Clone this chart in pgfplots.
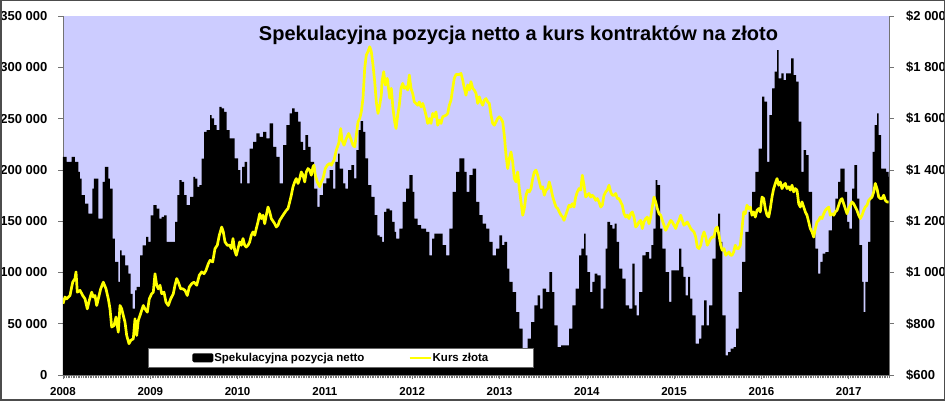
\documentclass[border=0pt]{standalone}
\usepackage{pgfplots}
\pgfplotsset{compat=1.18}
\usepackage{fontspec}
\setmainfont{Liberation Sans}
\definecolor{lav}{RGB}{204,204,255}
\definecolor{gold}{RGB}{255,255,0}
\begin{document}
\begin{tikzpicture}[x=1pt,y=1pt]
\begin{axis}[
  at={(63pt,26pt)}, anchor=south west, scale only axis,
  width=826pt, height=359pt,
  xmin=63, xmax=889, ymin=0, ymax=350,
  axis x line*=bottom, axis y line*=left,
  axis line style={-, draw=black!55, line width=0.8pt},
  axis background/.style={fill=lav},
  xtick={63,150.3,237.6,324.9,412.2,499.5,586.8,674.1,761.4,848.7,936},
  xticklabels={2008,2009,2010,2011,2012,2013,2014,2015,2016,2017,2018},
  minor x tick num=51,
  ytick={0,50,...,350},
  yticklabels={0,50 000,100 000,150 000,200 000,250 000,300 000,350 000},
  tick align=outside,
  major tick length=4.5pt, minor tick length=3.5pt,
  tick style={draw=black!55, line width=0.6pt},
  xticklabel style={font=\fontsize{11.5}{12}\selectfont\bfseries, anchor=north, inner sep=0pt, yshift=-8pt},
  yticklabel style={font=\fontsize{13}{14}\selectfont\bfseries, anchor=east, inner sep=0pt, xshift=-11pt},
  legend columns=2,
  legend style={at={(axis description cs:0.1029,0.0195)}, anchor=south west,
    draw=black!60, line width=0.6pt, fill=white, inner xsep=44pt, inner ysep=4pt,
    font=\fontsize{11.5}{12}\selectfont\bfseries, nodes={inner sep=1pt},
    /tikz/every even column/.append style={column sep=43pt}},
]
\addplot[fill=black, draw=none, const plot,
  legend image code/.code={\fill[black, rounded corners=1.5pt] (0pt,-4.5pt) rectangle (21pt,4.5pt);}]
coordinates {
(63,212.7) (66.7,207.8) (71.7,212.7) (75,207.8) (78.3,198) (80,191.5) (81.7,175.3) (85,167.1) (88.3,157.3) (92.3,181.8) (94,191.5) (98.3,152.5) (102.7,188.3) (105,202.9) (108.3,191.5) (110,181.8) (112.7,132.9) (115,110.2) (118.3,90.7) (120,121.5) (121.7,116.7) (125,106.9) (128.3,98.8) (130.7,79.2) (132.7,64.6) (135,82.5) (136.7,85.8) (140,116.7) (142.7,126.4) (146,134.6) (148.3,129.7) (150.7,155.7) (153.3,165.5) (156.7,162.2) (159.3,152.5) (161.7,154.1) (164,155.7) (166.7,129.7) (175,149.2) (177.3,175.3) (179.3,190) (181.7,188.3) (184,175.3) (186.7,165.5) (190,173.6) (193.3,193.2) (195,191.5) (197.3,183.4) (199.3,185) (201.7,211) (204,237.1) (206.7,238.7) (210,253.4) (211.7,250.1) (214,243.6) (216.7,238.7) (219.3,261.5) (221.7,259.9) (224,256.6) (226.7,238.7)
(229.7,230.6) (234.7,211.1) (238,199.7) (240.3,186.7) (242,202.9) (244.7,207.8) (247,186.7) (249.7,220.8) (253,227.3) (256.3,235.5) (259.7,232.2) (263,237.1) (266.3,230.6) (269.7,245.2) (273,222.5) (276.3,212.7) (279.7,186.7) (283,224.1) (286.3,243.6) (289.7,255) (292,259.9) (294.7,256.6) (298,246.9) (300.7,227.3) (303,219.2) (305.3,233.9) (308,222.5) (310.7,207.8) (314,181.8) (317.3,163.9) (319.7,175.3) (323,186.7) (326.3,191.6) (329.7,199.7) (333,181.8) (335.3,207.8) (338,215.9) (339.7,201.3) (343,186.7) (345.3,181.8) (348,199.7) (351.3,204.6) (354,191.6) (356.3,219.2) (358.7,238.7) (360.7,247.5) (363,237.1) (365.3,211.1) (368,185) (371.3,173.7) (374.7,155.8) (377.3,136.2) (379.7,134.6) (382,129.7) (384,159) (386.3,162.3) (389.7,160.6) (392,149.3) (394.7,139.5)
(396,133) (399.3,142.7) (402.7,168.8) (406,181.8) (409.3,194.8) (412.7,178.5) (414.3,152.5) (417.7,146) (421,142.7) (426,139.5) (429.3,116.7) (432,133) (434.3,137.9) (442.7,126.5) (446,116.7) (449.3,142.7) (452.7,178.5) (456,198.1) (459.3,211.1) (464.3,198.1) (466.7,178.5) (469.3,194.8) (472.7,201.3) (476,168.8) (479.3,155.8) (482.7,147.6) (486,142.7) (489.3,129.7) (492.7,116.7) (496,123.2) (499.3,136.2) (502,126.5) (504.3,129.7) (507,103.7) (509.3,90.7) (512.7,80.9) (516,61.4) (519.3,45.1) (522.7,25) (527.7,35.4) (531,51.6) (534.3,67.9) (537.7,77.7) (540,64.6) (542.7,84.2) (546,80.9) (549.3,100.4) (552,80.9) (554.3,48.4) (557.7,27.2) (561,28.9)
(565.7,28.9) (569,45.1) (572.3,67.9) (575.7,84.2) (579,116.7) (581.3,123.2) (584,137.9) (585.7,116.7) (587.3,100.4) (590,80.9) (592.3,90.7) (594.7,98.8) (597.3,97.2) (600.7,64.6) (603.3,84.2) (605.7,123.2) (607.3,149.3) (610,146) (612.3,142.7) (614.7,147.6) (616.7,129.7) (619,103.7) (622.3,93.9) (625.7,67.9) (629,64.6) (632.3,108.6) (634.7,67.9) (636.7,58.1) (639,80.9) (642.3,116.7) (645.7,119.9) (649,113.5) (651.3,126.5) (653.3,142.7) (655.7,189.9) (657.3,185) (660,142.7) (662.3,123.2) (665.7,100.4) (669,71.2) (671.3,102.1) (679,123.2) (681.3,105.3) (683.3,95.6) (685.7,77.7) (688,95.6) (690,74.4) (692.3,58.1) (695.7,30.5) (699,35.4) (701.3,48.4) (704,72.8) (706.7,48.4) (709,67.9) (712.3,113.5) (715.7,139.5) (718,157.4) (720,129.7) (722.3,58.1) (725.7,19.1) (728,22.3) (730.7,25.6)
(733.7,27.2) (736,45.1) (738.7,80.9) (742,110.2) (745.3,139.5) (748.7,159) (752,178.5) (755.3,198.1) (758.7,220.8) (762,271.3) (764.3,266.4) (767,207.8) (769.3,253.4) (772,279.4) (774.7,295.7) (777,316.8) (778.7,289.2) (781.3,294.1) (783.7,287.5) (786,294.1) (788.7,294.1) (791,308.7) (793.7,292.4) (796,285.9) (798.7,246.9) (801.3,198.1) (803.7,219.2) (806,214.3) (808.7,178.5) (812,139.5) (815.3,123.2) (818,98.8) (820.3,110.2) (822.7,118.3) (825.3,119.9) (828.7,141.1) (832,155.8) (835.3,172) (838,188.3) (840.3,201.3) (844.7,178.5) (847,149.3) (849.3,142.7) (852,181.8) (854.3,204.6) (857,172) (859.3,126.5) (862,90.7) (863.7,61.4) (865.3,90.7) (868,129.7) (870.3,172) (872.7,217.6) (874.7,243.6) (877,255) (878.7,233.9) (881,201.3) (886,198.1) (888.7,193.2) (889,193.2)
} \closedcycle;
\addlegendentry{Spekulacyjna pozycja netto}
\addlegendimage{legend image code/.code={\draw[gold, line width=2.2pt] (0pt,0pt) -- (21pt,0pt);}}
\addlegendentry{Kurs złota}
\end{axis}
\begin{axis}[
  at={(63pt,26pt)}, anchor=south west, scale only axis,
  width=826pt, height=359pt,
  xmin=63, xmax=889, ymin=600, ymax=2000,
  axis x line=none, axis y line*=right,
  axis line style={-, draw=black!55, line width=0.8pt},
  ytick={600,800,...,2000},
  yticklabels={\$600,\$800,\$1 000,\$1 200,\$1 400,\$1 600,\$1 800,\$2 000},
  tick align=outside, major tick length=4.5pt,
  tick style={draw=black!55, line width=0.6pt},
  yticklabel style={font=\fontsize{13}{14}\selectfont\bfseries, anchor=west, inner sep=0pt, xshift=12.5pt},
]
\addplot[gold, line width=2.7pt, line join=round] coordinates {
(63,878) (65,904) (66.7,897) (70,910) (72.7,962) (75,976) (76,1002) (77.3,923) (80,930) (82.7,910) (85,897) (87.3,858) (89.3,891) (91.7,923) (93.3,904) (95,910) (96.7,871) (98.3,897) (100.7,936) (103.3,962) (106,936) (108.3,897) (110,858) (111.7,787) (114,793) (116,826) (118.3,767) (120,871) (121.7,858) (123.3,832) (125,806) (126.7,754) (129,722) (130.7,735) (133.3,741) (135,819) (136.7,754) (138.3,813) (140,832) (143.3,871) (145,858) (147.3,845) (149.3,897) (151.7,917) (153.3,923) (155,995) (156.7,950) (158.3,936) (160,950) (161.7,917) (164,923) (166,884) (168.3,871) (170.7,897) (173.3,917) (175,950) (176.7,976) (178.3,962) (180.7,936) (182.7,936) (185,930) (187.3,910) (189.3,943) (191.7,956) (194,962) (196.7,950) (199.3,989) (201.7,1002) (204,995) (206,1008) (208.3,1034) (210,1047) (212.7,1041) (215,1093) (217.3,1106) (219.3,1145) (221.7,1177) (223.3,1158) (225,1119) (227.3,1106)
(229.7,1106) (231.3,1093) (233,1132) (234.7,1086) (236.3,1067) (238,1093) (239.7,1119) (241.3,1106) (243,1132) (244.7,1106) (246.3,1099) (248,1106) (249.7,1119) (251.3,1145) (253,1158) (254.7,1145) (256.3,1171) (258,1197) (259.7,1229) (261.3,1210) (263,1223) (264.7,1190) (266.3,1223) (268,1255) (269.7,1236) (271.3,1210) (274.7,1190) (276.3,1177) (278,1184) (279.7,1203) (283,1223) (286.3,1242) (288,1249) (289.7,1275) (291.3,1301) (293,1334) (294.7,1353) (296.3,1366) (298,1347) (299.7,1366) (301.3,1392) (303,1379) (304.7,1353) (306.3,1392) (308,1405) (309.7,1399) (311.3,1379) (313,1412) (314,1418) (315.3,1379) (317.3,1353) (319.7,1334) (321.3,1353) (323,1366) (325.3,1405) (327.3,1418) (329.7,1425) (331.3,1418) (334,1438) (336.3,1477) (338.7,1503) (340.7,1561) (342,1516) (344,1496) (346.3,1522) (348.7,1542) (350.7,1522) (353,1496) (354.7,1490) (356.3,1535) (358,1587) (359.7,1600) (361.3,1626) (363,1679) (364.7,1796) (366.3,1848) (368,1861) (369.7,1880) (371.3,1861) (373,1809) (374.7,1744) (376.3,1665) (378,1620) (379.7,1652) (381.3,1691) (382,1744) (383.7,1783) (385.3,1731) (387.3,1757) (389.7,1679) (391.3,1718) (393,1639) (394.7,1587)
(396,1561) (397.7,1613) (399.3,1652) (401,1718) (402.7,1737) (404.3,1718) (406,1724) (407.7,1711) (409.3,1770) (411,1718) (412.7,1698) (414.3,1665) (416,1659) (417.7,1652) (419.3,1665) (421,1646) (422.7,1659) (424.3,1639) (426,1613) (427.7,1581) (429.3,1600) (431,1581) (432.7,1620) (434.3,1607) (436,1626) (437.7,1574) (439.3,1594) (441,1581) (442.7,1607) (446,1613) (447.7,1620) (449.3,1652) (451,1672) (452.7,1718) (454.3,1757) (456,1772) (459.3,1772) (461,1776) (462.7,1750) (464.3,1718) (466,1691) (467.7,1731) (469.3,1711) (471,1744) (472.7,1718) (474.3,1711) (476,1698) (477.7,1659) (479.3,1685) (481,1665) (482.7,1652) (484.3,1672) (486,1678) (487.7,1665) (489.3,1659) (491,1613) (492.7,1581) (494.3,1574) (496,1587) (497.7,1600) (499.3,1607) (501,1600) (502.7,1587) (504.3,1535) (506,1457) (507.7,1405) (509.3,1444) (511,1470) (512.7,1431) (514.3,1366) (516,1353) (517.7,1392) (519.3,1327) (521,1275) (522.7,1223) (524.3,1249) (526,1301) (527.7,1321) (529.3,1314) (531,1327) (532.7,1366) (534.3,1392) (536,1399) (537.7,1379) (539.3,1353) (541,1327) (542.7,1334) (544.3,1301) (546,1321) (547.7,1327) (549.3,1353) (551,1327) (552.7,1295) (554.3,1275) (556,1255) (557.7,1249) (559.3,1236) (561,1223) (562.7,1216)
(564,1203) (565.7,1223) (567.3,1242) (569,1262) (570.7,1255) (572.3,1268) (574,1255) (575.7,1294) (577.3,1314) (579,1327) (580.7,1321) (582.3,1379) (584,1340) (585.7,1294) (587.3,1301) (589,1308) (590.7,1294) (592.3,1301) (594,1294) (595.7,1281) (597.3,1288) (599,1275) (600.7,1255) (602.3,1262) (604,1301) (605.7,1314) (607.3,1321) (609,1340) (610.7,1314) (612.3,1301) (614,1301) (615.7,1308) (617.3,1288) (619,1288) (620.7,1275) (622.3,1262) (624,1229) (625.7,1216) (627.3,1223) (629,1210) (630.7,1229) (632.3,1236) (634,1216) (635.7,1177) (637.3,1184) (639,1197) (640.7,1203) (642.3,1171) (644,1197) (645.7,1210) (647.3,1216) (649,1190) (650.7,1216) (652.3,1255) (654,1294) (655.7,1275) (657.3,1249) (659,1229) (660.7,1223) (662.3,1203) (664,1184) (665.7,1164) (667.3,1177) (669,1190) (670.7,1203) (672.3,1197) (674,1184) (675.7,1171) (677.3,1190) (679,1203) (680.7,1223) (682.3,1203) (684,1184) (685.7,1190) (687.3,1197) (689,1184) (690.7,1171) (692.3,1164) (694,1158) (695.7,1138) (697.3,1099) (699,1093) (700.7,1106) (702.3,1138) (704,1158) (705.7,1138) (707.3,1106) (709,1119) (710.7,1132) (712.3,1138) (714,1138) (715.7,1171) (717.3,1177) (719,1145) (720.7,1106) (722.3,1086) (724,1093) (725.7,1067) (727.3,1073) (729,1080) (730.7,1067)
(732,1067) (733.7,1080) (735.3,1106) (737,1093) (738.7,1093) (740.3,1106) (742,1171) (743.7,1236) (745.3,1229) (747,1262) (748.7,1249) (750.3,1255) (752,1223) (753.7,1236) (755.3,1216) (757,1242) (758.7,1249) (760.3,1236) (762,1294) (763.7,1288) (765.3,1249) (767,1223) (768.7,1216) (770.3,1249) (772,1294) (773.7,1327) (775.3,1347) (777,1366) (778.7,1340) (780.3,1353) (782,1327) (783.7,1340) (785.3,1347) (787,1327) (788.7,1334) (790.3,1321) (792,1340) (793.7,1314) (795.3,1327) (797,1321) (798.7,1268) (800.3,1255) (802,1275) (803.7,1255) (805.3,1236) (807,1223) (808.7,1197) (810.3,1171) (812,1158) (813.7,1138) (815.3,1171) (817,1197) (818.7,1203) (820.3,1216) (822,1210) (823.7,1229) (825.3,1242) (827,1249) (828.7,1255) (830.3,1223) (832,1229) (833.7,1223) (835.3,1236) (837,1242) (838.7,1262) (840.3,1281) (842,1288) (843.7,1268) (845.3,1249) (847,1229) (848.7,1249) (850.3,1262) (852,1275) (853.7,1268) (855.3,1255) (857,1242) (858.7,1223) (860.3,1210) (862,1223) (863.7,1242) (865.3,1255) (867,1262) (868.7,1281) (870.3,1288) (872,1294) (873.7,1314) (875.3,1347) (877,1327) (878.7,1294) (880.3,1288) (882,1288) (883.7,1301) (885.3,1281) (887,1275) (888.7,1275)
};
\end{axis}
\node[anchor=base, font=\fontsize{20}{24}\selectfont\bfseries] at (518.5,360.5) {Spekulacyjna pozycja netto a kurs kontraktów na złoto};
\pgfresetboundingbox
\path[use as bounding box] (0,0) rectangle (945,401);
\draw[black!70, line width=1.5pt] (0.75,0.75) rectangle (944.25,400.25);
\end{tikzpicture}
\end{document}
